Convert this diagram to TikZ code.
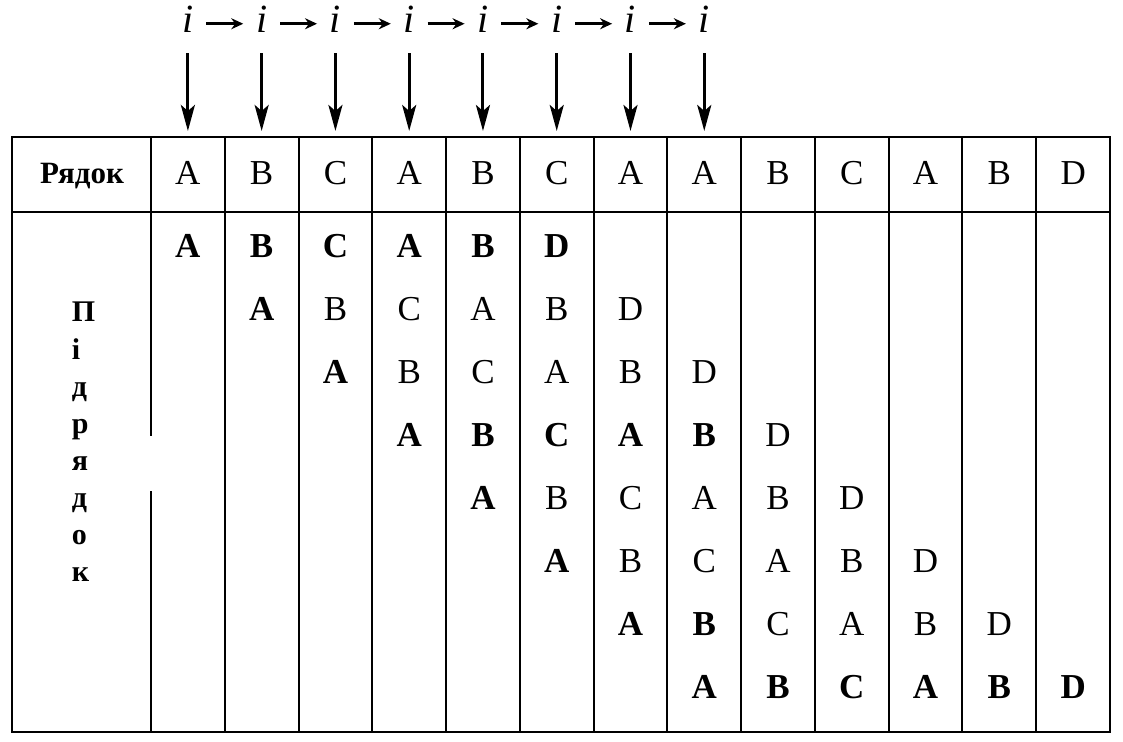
\documentclass[tikz,border=0pt]{standalone}
\usepackage{fontspec}
\setmainfont{Liberation Serif}
\usetikzlibrary{arrows.meta}

\begin{document}
\begin{tikzpicture}[x=0.5pt,y=-0.5pt,
        grid/.style={line width=1pt},
        rg/.style={anchor=base,inner sep=0,font=\fontsize{17.5}{19}\selectfont},
        bl/.style={anchor=base,inner sep=0,font=\fontsize{17.5}{19}\selectfont\bfseries},
        vert/.style={anchor=base west,inner sep=0,font=\fontsize{15}{16}\selectfont\bfseries},
        idx/.style={anchor=base,inner sep=0,minimum width=18pt,font=\fontsize{20}{22}\selectfont\itshape},
        nextarrow/.style={line width=1.5pt,-{Stealth[length=6pt,width=5.5pt]}},
        downarrow/.style={line width=1.5pt,-{Stealth[length=13pt,width=7pt,inset=3pt]}}]
      \useasboundingbox (0,0) rectangle (1123,742);

      \draw[grid] (12,137) rectangle (1110,732);
      \draw[grid] (12,212) -- (1110,212);
      \draw[grid] (151,137) -- (151,436) (151,491) -- (151,732);
      \foreach \k in {1,...,12}
        \draw[grid] ({151+\k*73.77},137) -- ({151+\k*73.77},732);

      \node[bl,font=\fontsize{15.5}{17}\selectfont\bfseries] (rowlbl) at (82,184) {Рядок};
      \foreach \t [count=\k] in {П,і,д,р,я,д,о,к}
        \node[vert] (s\k) at (71.5,{322+37.1*(\k-1)}) {\t};

      \foreach \t [count=\k] in {A,B,C,A,B,C,A,A,B,C,A,B,D}
        \node[rg] (h\k) at ({151+(\k-0.5)*73.77},185) {\t};

      \foreach \c/\r/\t/\s in {1/1/A/bl,
          2/1/B/bl, 2/2/A/bl,
          3/1/C/bl, 3/2/B/rg, 3/3/A/bl,
          4/1/A/bl, 4/2/C/rg, 4/3/B/rg, 4/4/A/bl,
          5/1/B/bl, 5/2/A/rg, 5/3/C/rg, 5/4/B/bl, 5/5/A/bl,
          6/1/D/bl, 6/2/B/rg, 6/3/A/rg, 6/4/C/bl, 6/5/B/rg, 6/6/A/bl,
          7/2/D/rg, 7/3/B/rg, 7/4/A/bl, 7/5/C/rg, 7/6/B/rg, 7/7/A/bl,
          8/3/D/rg, 8/4/B/bl, 8/5/A/rg, 8/6/C/rg, 8/7/B/bl, 8/8/A/bl,
          9/4/D/rg, 9/5/B/rg, 9/6/A/rg, 9/7/C/rg, 9/8/B/bl,
          10/5/D/rg, 10/6/B/rg, 10/7/A/rg, 10/8/C/bl,
          11/6/D/rg, 11/7/B/rg, 11/8/A/bl,
          12/7/D/rg, 12/8/B/bl,
          13/8/D/bl}
        \node[\s] (c\c-\r) at ({151+(\c-0.5)*73.77},{258+62.9*(\r-1)}) {\t};

      \foreach \k in {1,...,8} {
        \node[idx] (i\k) at ({151+(\k-0.5)*73.77},33) {i};
        \coordinate (t\k) at ({151+(\k-0.5)*73.77},137);
      }
      \foreach \k [evaluate=\k as \n using int(\k+1)] in {1,...,7}
        \draw[nextarrow] ([yshift=-2pt]i\k.east) -- ([yshift=-2pt]i\n.west);
      \foreach \k in {1,...,8}
        \draw[downarrow] ([yshift=-10pt]i\k.south) -- ([yshift=3pt]t\k);
      \end{tikzpicture}
\end{document}
